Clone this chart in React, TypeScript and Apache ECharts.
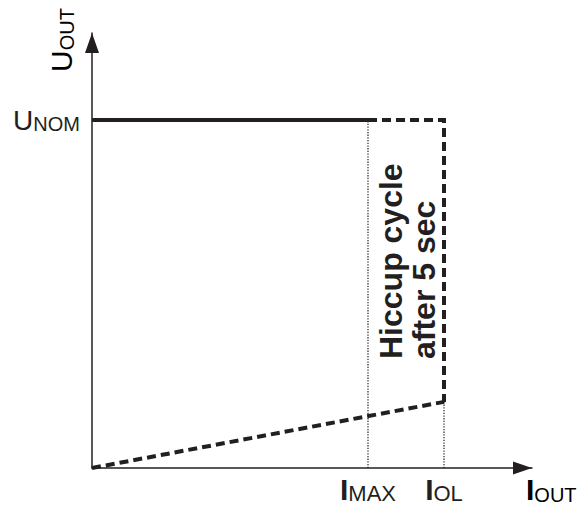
import React, { useEffect, useRef } from 'react';
import * as echarts from 'echarts';

// ---- data (arbitrary units: current on x, voltage on y) ----
const xMaxValue = 110;
const yMaxValue = 125;
const uNominal = 100;
const iMax = 69;
const iOverload = 88;
const hiccupLevel = 19;

const nominalSolid = [[0, uNominal], [iMax, uNominal]];
const overloadDashed = [[iMax, uNominal], [iOverload, uNominal], [iOverload, hiccupLevel]];
const hiccupRamp = [[0, 0], [iOverload, hiccupLevel]];
const iMaxMarker = [[iMax, 0], [iMax, uNominal]];
const iOverloadMarker = [[iOverload, 0], [iOverload, hiccupLevel]];

const xTickValues = [iMax, iOverload];
const xTickSubscripts = ['MAX', 'OL'];
const yTickValues = [uNominal];
const yTickSubscripts = ['NOM'];

const FONT = '"Liberation Sans", Arial, Helvetica, sans-serif';
const INK = '#231f20';

const bigI = { fontFamily: FONT, fontSize: 30, fontWeight: 'bold', color: INK, lineHeight: 30, verticalAlign: 'bottom' };
const subX = { fontFamily: FONT, fontSize: 22, color: INK, lineHeight: 24, verticalAlign: 'bottom' };
const subXOut = { fontFamily: FONT, fontSize: 20, color: INK, lineHeight: 23, verticalAlign: 'bottom' };
const bigU = { fontFamily: FONT, fontSize: 28, color: INK, lineHeight: 28, verticalAlign: 'bottom' };
const subU = { fontFamily: FONT, fontSize: 20, color: INK, lineHeight: 23, verticalAlign: 'bottom' };
const bigUOut = { fontFamily: FONT, fontSize: 30, color: INK, lineHeight: 30, verticalAlign: 'bottom' };

export default function App() {
  const ref = useRef<HTMLDivElement>(null);
  useEffect(() => {
    const chart = echarts.init(ref.current!, null, { renderer: 'svg' });
    const lineSeries = (data: number[][], width: number, type: any) => ({
      type: 'line',
      data,
      symbol: 'none',
      showSymbol: false,
      silent: true,
      lineStyle: { color: INK, width, type, cap: 'butt', join: 'miter' },
    });
    chart.setOption({
      animation: false,
      backgroundColor: '#ffffff',
      grid: { left: 92, right: 46, top: 33, bottom: 38, containLabel: false, outerBoundsMode: 'none' },
      xAxis: {
        type: 'value',
        min: 0,
        max: xMaxValue,
        splitLine: { show: false },
        axisTick: { show: false },
        axisLine: {
          show: true,
          lineStyle: { color: INK, width: 1.5 },
          symbol: ['none', 'triangle'],
          symbolSize: [13, 19],
          symbolOffset: [0, -9.5],
        },
        axisLabel: {
          customValues: xTickValues,
          margin: 6,
          formatter: (v: number) => {
            const i = xTickValues.indexOf(v);
            return i < 0 ? '' : `{i|I}{s|${xTickSubscripts[i]}}`;
          },
          rich: { i: bigI, s: subX },
        },
      },
      yAxis: {
        type: 'value',
        min: 0,
        max: yMaxValue,
        splitLine: { show: false },
        axisTick: { show: false },
        axisLine: {
          show: true,
          lineStyle: { color: INK, width: 1.5 },
          symbol: ['none', 'triangle'],
          symbolSize: [14, 20],
          symbolOffset: [0, -10],
        },
        axisLabel: {
          customValues: yTickValues,
          margin: 12,
          formatter: (v: number) => {
            const i = yTickValues.indexOf(v);
            return i < 0 ? '' : `{u|U}{s|${yTickSubscripts[i]}}`;
          },
          rich: { u: bigU, s: subU },
        },
      },
      graphic: [
        {
          type: 'text',
          x: 76.5,
          y: 72,
          rotation: Math.PI / 2,
          silent: true,
          style: {
            text: '{u|U}{s|OUT}',
            align: 'left',
            verticalAlign: 'bottom',
            rich: { u: bigUOut, s: subU },
          },
        },
        {
          type: 'text',
          x: 526,
          y: 474.5,
          silent: true,
          style: {
            text: '{i|I}{s|OUT}',
            align: 'left',
            verticalAlign: 'top',
            rich: { i: bigI, s: subXOut },
          },
        },
        {
          type: 'text',
          x: 407,
          y: 359,
          rotation: Math.PI / 2,
          silent: true,
          style: {
            text: 'Hiccup cycle\nafter 5 sec',
            fontFamily: FONT,
            fontSize: 32,
            fontWeight: 'bold',
            lineHeight: 33,
            fill: INK,
            align: 'left',
            verticalAlign: 'middle',
          },
        },
      ],
      series: [
        lineSeries(iMaxMarker, 1.2, [1.3, 1.4]),
        lineSeries(iOverloadMarker, 1.2, [1.3, 1.4]),
        lineSeries(nominalSolid, 4, 'solid'),
        lineSeries(overloadDashed, 4, [9, 5]),
        lineSeries(hiccupRamp, 4, [9, 5]),
      ],
    });
    return () => chart.dispose();
  }, []);
  return (
    <div
      ref={ref}
      style={{ position: 'absolute', left: 0, top: 0, width: 578, height: 506, background: '#fff' }}
    />
  );
}
